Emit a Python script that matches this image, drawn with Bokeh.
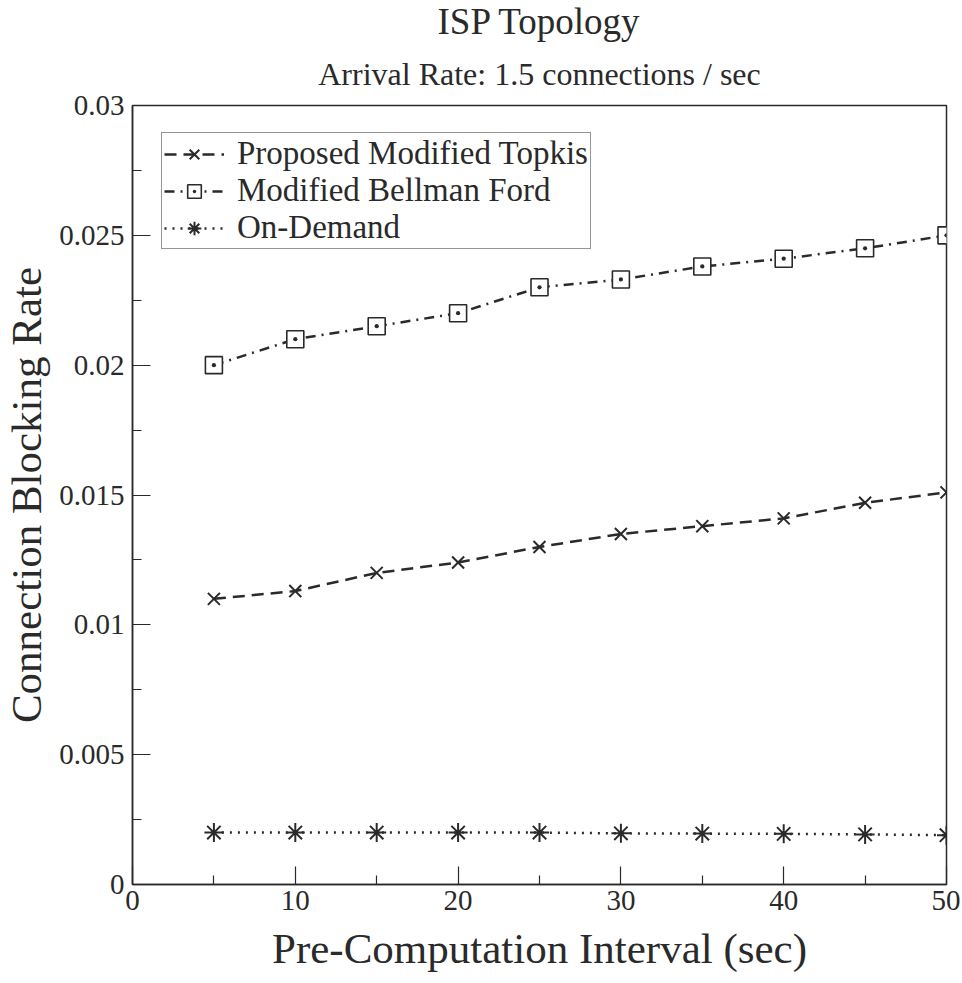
from bokeh.plotting import figure
from bokeh.models import Title, FixedTicker, Legend, LegendItem
from bokeh.embed import file_html
from bokeh.resources import INLINE

interval = [5, 10, 15, 20, 25, 30, 35, 40, 45, 50]
topkis = [0.0110, 0.0113, 0.0120, 0.0124, 0.0130, 0.0135, 0.0138, 0.0141, 0.0147, 0.0151]
bellman = [0.0200, 0.0210, 0.0215, 0.0220, 0.0230, 0.0233, 0.0238, 0.0241, 0.0245, 0.0250]
ondemand = [0.0020, 0.0020, 0.0020, 0.0020, 0.0020, 0.00197, 0.00196, 0.00195, 0.00193, 0.0019]

x_ticks = [0, 10, 20, 30, 40, 50]
x_minor = [5, 15, 25, 35, 45]
y_ticks = [0, 0.005, 0.01, 0.015, 0.02, 0.025, 0.03]
y_labels = ["0", "0.005", "0.01", "0.015", "0.02", "0.025", "0.03"]
y_minor = [0.0025, 0.0075, 0.0125, 0.0175, 0.0225, 0.0275]

FONT = "Liberation Serif"
INK = "#2a2a2a"

p = figure(width=960, height=978, output_backend="svg", toolbar_location=None,
           x_range=(0, 50), y_range=(0, 0.03),
           min_border_left=128, min_border_right=14, min_border_top=104, min_border_bottom=94)
p.title = None
p.add_layout(Title(text="Arrival Rate: 1.5 connections / sec", align="center",
                   text_font=FONT, text_font_size="32px", text_font_style="normal",
                   text_color=INK, standoff=28), "above")
p.add_layout(Title(text="ISP Topology", align="center",
                   text_font=FONT, text_font_size="37px", text_font_style="normal",
                   text_color=INK, standoff=-4), "above")

p.grid.visible = False
p.outline_line_color = INK
p.outline_line_width = 1.5
p.background_fill_color = "white"
p.border_fill_color = "white"

p.xaxis.ticker = FixedTicker(ticks=x_ticks, minor_ticks=x_minor)
p.yaxis.ticker = FixedTicker(ticks=y_ticks, minor_ticks=y_minor)
p.yaxis.major_label_overrides = {t: l for t, l in zip(y_ticks, y_labels)}
p.xaxis.major_label_overrides = {t: str(t) for t in x_ticks}

for ax in (p.xaxis, p.yaxis):
    ax.axis_line_color = INK
    ax.axis_line_width = 1.5
    ax.major_tick_in = 18
    ax.major_tick_out = 0
    ax.minor_tick_in = 9
    ax.minor_tick_out = 0
    ax.major_tick_line_color = INK
    ax.minor_tick_line_color = INK
    ax.major_tick_line_width = 1.2
    ax.minor_tick_line_width = 1.2
    ax.major_label_text_font = FONT
    ax.major_label_text_font_size = "29px"
    ax.major_label_text_color = INK
    ax.axis_label_text_font = FONT
    ax.axis_label_text_font_size = "43px"
    ax.axis_label_text_font_style = "normal"
    ax.axis_label_text_color = INK

p.xaxis.axis_label = "Pre-Computation Interval (sec)"
p.yaxis.axis_label = "Connection Blocking Rate"
p.xaxis.major_label_standoff = 6
p.yaxis.major_label_standoff = 8
p.xaxis.axis_label_standoff = 12
p.yaxis.axis_label_standoff = 6

r1 = p.line(interval, topkis, line_color=INK, line_width=2.5, line_dash="12 7")
m1 = p.scatter(interval, topkis, marker="x", size=17, line_color=INK, line_width=2)
r2 = p.line(interval, bellman, line_color=INK, line_width=2.5, line_dash="10 6 2 6")
m2 = p.scatter(interval, bellman, marker="square_dot", size=17, line_color=INK,
               fill_color="white", line_width=1.6)
r3 = p.line(interval, ondemand, line_color=INK, line_width=2.5, line_dash="2 6")
m3 = p.scatter(interval, ondemand, marker="asterisk", size=19, line_color=INK, line_width=2)

legend = Legend(items=[
    LegendItem(label="Proposed Modified Topkis", renderers=[r1, m1]),
    LegendItem(label="Modified Bellman Ford", renderers=[r2, m2]),
    LegendItem(label="On-Demand", renderers=[r3, m3]),
], location=(29, 635))
legend.margin = 0
legend.padding = 2
legend.spacing = 0
legend.glyph_width = 60
legend.glyph_height = 34
legend.label_height = 34
legend.label_standoff = 13
legend.label_text_font = FONT
legend.label_text_font_size = "33px"
legend.label_text_color = INK
legend.border_line_color = INK
legend.border_line_width = 1.5
legend.background_fill_alpha = 1
p.add_layout(legend)

open("out.html", "w").write(file_html(p, INLINE))
